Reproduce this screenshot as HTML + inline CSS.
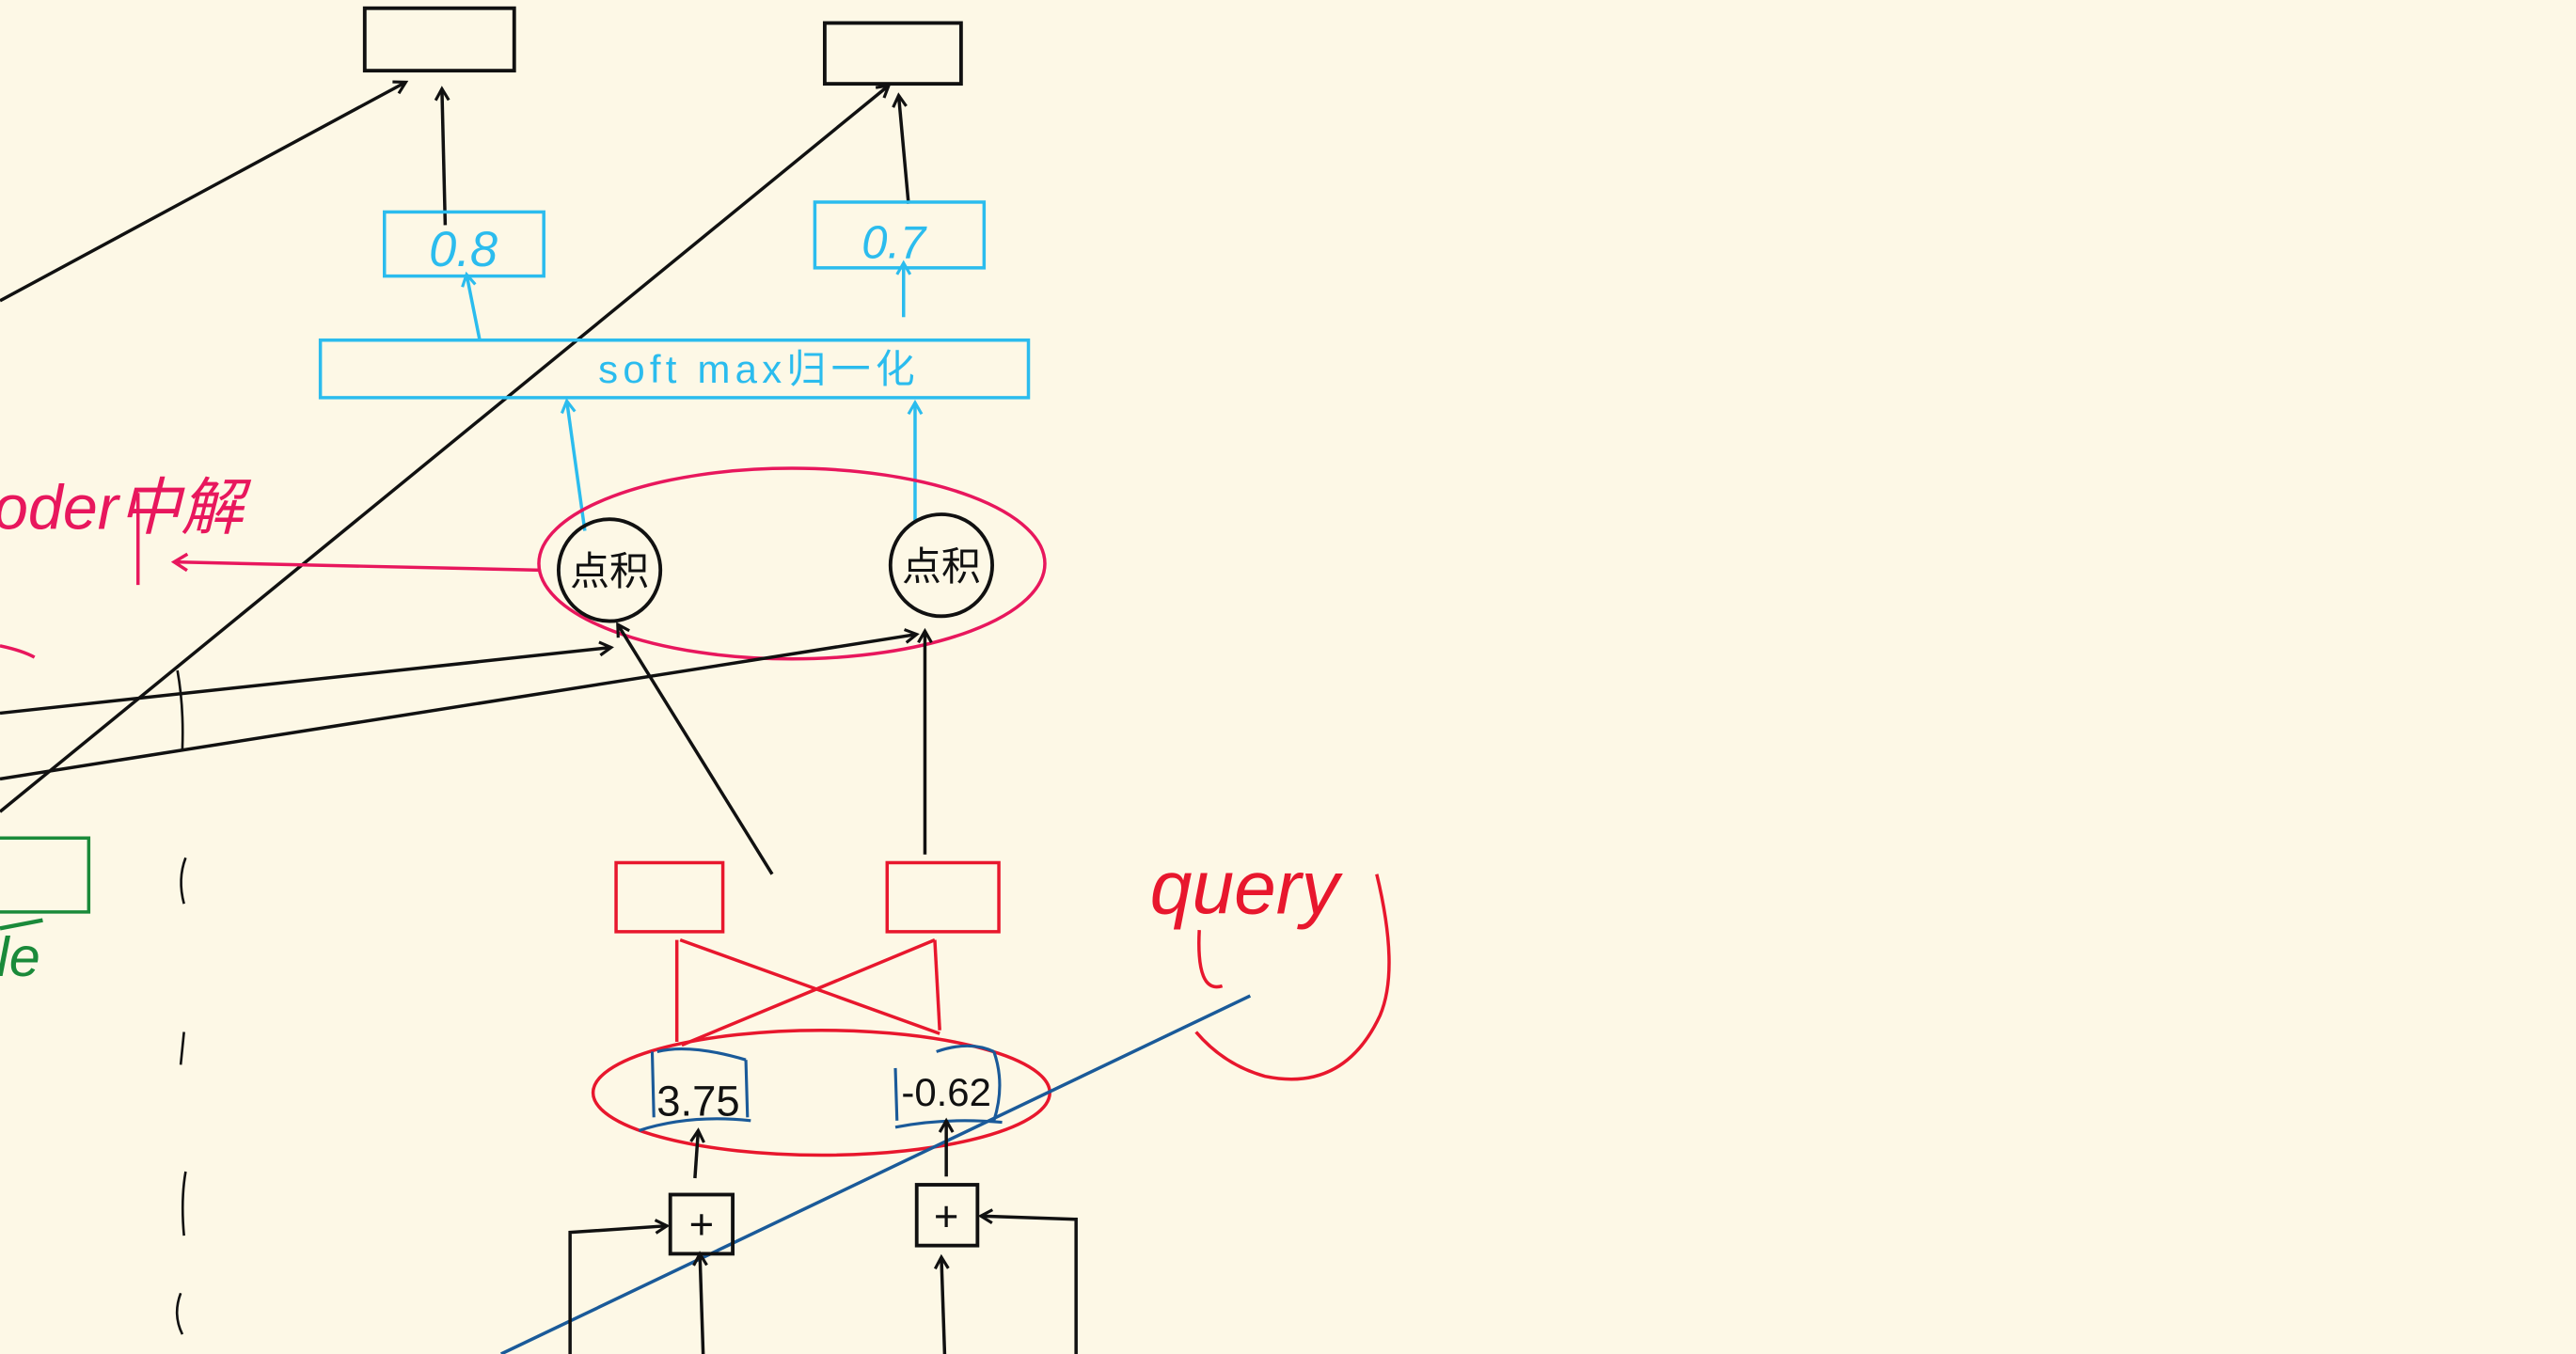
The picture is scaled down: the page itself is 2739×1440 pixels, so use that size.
<!DOCTYPE html>
<html><head><meta charset="utf-8"><style>
html,body{margin:0;padding:0;background:#fdf8e6;}
svg{display:block}
text{font-family:"Liberation Sans","Noto Sans CJK SC",sans-serif;}
</style></head><body>
<svg width="2739" height="1440" viewBox="0 0 1568 824" preserveAspectRatio="none" xmlns="http://www.w3.org/2000/svg">
<defs>
<marker id="ak" markerWidth="10" markerHeight="10" refX="8" refY="5" orient="auto" markerUnits="userSpaceOnUse"><path d="M1,1 L8,5 L1,9" fill="none" stroke="#111" stroke-width="1.8"/></marker>
<marker id="ab" markerWidth="10" markerHeight="10" refX="8" refY="5" orient="auto" markerUnits="userSpaceOnUse"><path d="M1,1 L8,5 L1,9" fill="none" stroke="#2bbcee" stroke-width="1.8"/></marker>
<marker id="ar" markerWidth="12" markerHeight="12" refX="9" refY="6" orient="auto" markerUnits="userSpaceOnUse"><path d="M1,1 L9,6 L1,11" fill="none" stroke="#e8175d" stroke-width="2"/></marker>
</defs>
<rect width="1568" height="824" fill="#fdf8e6"/>
<!-- top black boxes -->
<rect x="222" y="5" width="91" height="38" fill="none" stroke="#111" stroke-width="2.2"/>
<rect x="502" y="14" width="83" height="37" fill="none" stroke="#111" stroke-width="2.2"/>
<!-- black long lines -->
<line x1="0" y1="183" x2="247" y2="50" stroke="#111" stroke-width="2" marker-end="url(#ak)"/>
<line x1="0" y1="494" x2="541" y2="52" stroke="#111" stroke-width="2" marker-end="url(#ak)"/>
<line x1="271" y1="137" x2="269" y2="54" stroke="#111" stroke-width="2" marker-end="url(#ak)"/>
<line x1="553" y1="124" x2="547" y2="58" stroke="#111" stroke-width="2" marker-end="url(#ak)"/>
<!-- blue boxes -->
<rect x="234" y="129" width="97" height="39" fill="none" stroke="#2bbcee" stroke-width="2"/>
<text x="282" y="162" font-size="30" fill="#2bbcee" text-anchor="middle" font-style="italic">0.8</text>
<rect x="496" y="123" width="103" height="40" fill="none" stroke="#2bbcee" stroke-width="2"/>
<text x="544" y="157" font-size="28" fill="#2bbcee" text-anchor="middle" font-style="italic">0.7</text>
<rect x="195" y="207" width="431" height="35" fill="none" stroke="#2bbcee" stroke-width="2"/>
<text x="462" y="233" font-size="24" fill="#2bbcee" text-anchor="middle" letter-spacing="3">soft max归一化</text>
<line x1="292" y1="207" x2="284" y2="167" stroke="#2bbcee" stroke-width="2" marker-end="url(#ab)"/>
<line x1="550" y1="193" x2="550" y2="160" stroke="#2bbcee" stroke-width="2" marker-end="url(#ab)"/>
<line x1="356" y1="323" x2="345" y2="244" stroke="#2bbcee" stroke-width="2" marker-end="url(#ab)"/>
<line x1="557" y1="318" x2="557" y2="245" stroke="#2bbcee" stroke-width="2" marker-end="url(#ab)"/>
<!-- red ellipse top -->
<ellipse cx="482" cy="343" rx="154" ry="58" fill="none" stroke="#e8175d" stroke-width="2"/>
<circle cx="371" cy="347" r="31" fill="none" stroke="#111" stroke-width="2.2"/>
<text x="371" y="356" font-size="24" fill="#111" text-anchor="middle">点积</text>
<circle cx="573" cy="344" r="31" fill="none" stroke="#111" stroke-width="2.2"/>
<text x="573" y="353" font-size="24" fill="#111" text-anchor="middle">点积</text>
<line x1="329" y1="347" x2="106" y2="342" stroke="#e8175d" stroke-width="2" marker-end="url(#ar)"/>
<text x="-4" y="322" font-size="38" fill="#e8175d" font-style="italic">oder中解</text>
<line x1="84" y1="300" x2="84" y2="356" stroke="#e8175d" stroke-width="2"/>
<path d="M0,393 Q14,396 21,400" fill="none" stroke="#e8175d" stroke-width="2"/>
<!-- black incoming lines -->
<line x1="0" y1="434" x2="372" y2="394" stroke="#111" stroke-width="2" marker-end="url(#ak)"/>
<line x1="0" y1="474" x2="558" y2="386" stroke="#111" stroke-width="2" marker-end="url(#ak)"/>
<path d="M108,408 Q112,430 111,456" fill="none" stroke="#111" stroke-width="1.5"/>
<line x1="470" y1="532" x2="376" y2="380" stroke="#111" stroke-width="2" marker-end="url(#ak)"/>
<line x1="563" y1="520" x2="563" y2="384" stroke="#111" stroke-width="2" marker-end="url(#ak)"/>
<!-- green -->
<rect x="-5" y="510" width="59" height="45" fill="none" stroke="#1a8a3a" stroke-width="2"/>
<line x1="0" y1="565" x2="26" y2="560" stroke="#1a8a3a" stroke-width="2.5"/>
<text x="-2" y="594" font-size="34" fill="#1a8a3a" font-style="italic">le</text>
<!-- dashes left -->
<g stroke="#111" stroke-width="1.5" fill="none">
<path d="M113,522 Q108,535 112,550"/><path d="M112,628 L110,648"/><path d="M113,713 Q110,730 112,752"/><path d="M110,787 Q105,800 111,812"/>
</g>
<!-- red boxes -->
<rect x="375" y="525" width="65" height="42" fill="none" stroke="#e8172d" stroke-width="2"/>
<rect x="540" y="525" width="68" height="42" fill="none" stroke="#e8172d" stroke-width="2"/>
<g stroke="#e8172d" stroke-width="2" fill="none">
<line x1="412" y1="572" x2="412" y2="634"/><line x1="414" y1="572" x2="572" y2="629"/>
<line x1="569" y1="572" x2="415" y2="636"/><line x1="569" y1="572" x2="572" y2="627"/>
</g>
<ellipse cx="500" cy="665" rx="139" ry="38" fill="none" stroke="#e8172d" stroke-width="2"/>
<text x="425" y="679" font-size="26" fill="#111" text-anchor="middle">3.75</text>
<text x="576" y="673" font-size="24" fill="#111" text-anchor="middle">-0.62</text>
<path d="M397,640 L398,680 M389,688 Q420,678 457,682 M454,645 L455,680 M400,640 Q420,635 454,645" fill="none" stroke="#1a5a99" stroke-width="1.8"/>
<path d="M545,650 L546,682 M545,686 Q575,680 610,683 M605,640 Q612,660 605,682 M570,640 Q590,633 605,640" fill="none" stroke="#1a5a99" stroke-width="1.8"/>
<!-- query -->
<text x="700" y="556" font-size="46" fill="#e8172d" font-style="italic">query</text>
<path d="M730,566 Q728,605 744,600" fill="none" stroke="#e8172d" stroke-width="2"/>
<path d="M838,532 Q852,590 840,618 Q818,665 770,655 Q745,648 728,628" fill="none" stroke="#e8172d" stroke-width="2"/>
<!-- blue diagonal -->
<line x1="305" y1="824" x2="761" y2="606" stroke="#1a5a99" stroke-width="2"/>
<!-- plus boxes -->
<rect x="408" y="727" width="38" height="36" fill="none" stroke="#111" stroke-width="2.2"/>
<text x="427" y="754" font-size="26" fill="#111" text-anchor="middle">+</text>
<rect x="558" y="721" width="37" height="37" fill="none" stroke="#111" stroke-width="2.2"/>
<text x="576" y="749" font-size="26" fill="#111" text-anchor="middle">+</text>
<g stroke="#111" stroke-width="2" fill="none">
<line x1="423" y1="717" x2="425" y2="688" marker-end="url(#ak)"/>
<line x1="576" y1="716" x2="576" y2="682" marker-end="url(#ak)"/>
<line x1="428" y1="824" x2="426" y2="763" marker-end="url(#ak)"/>
<line x1="575" y1="824" x2="573" y2="765" marker-end="url(#ak)"/>
<polyline points="347,824 347,750 406,746" marker-end="url(#ak)"/>
<polyline points="655,824 655,742 597,740" marker-end="url(#ak)"/>
</g>
</svg>
</body></html>
